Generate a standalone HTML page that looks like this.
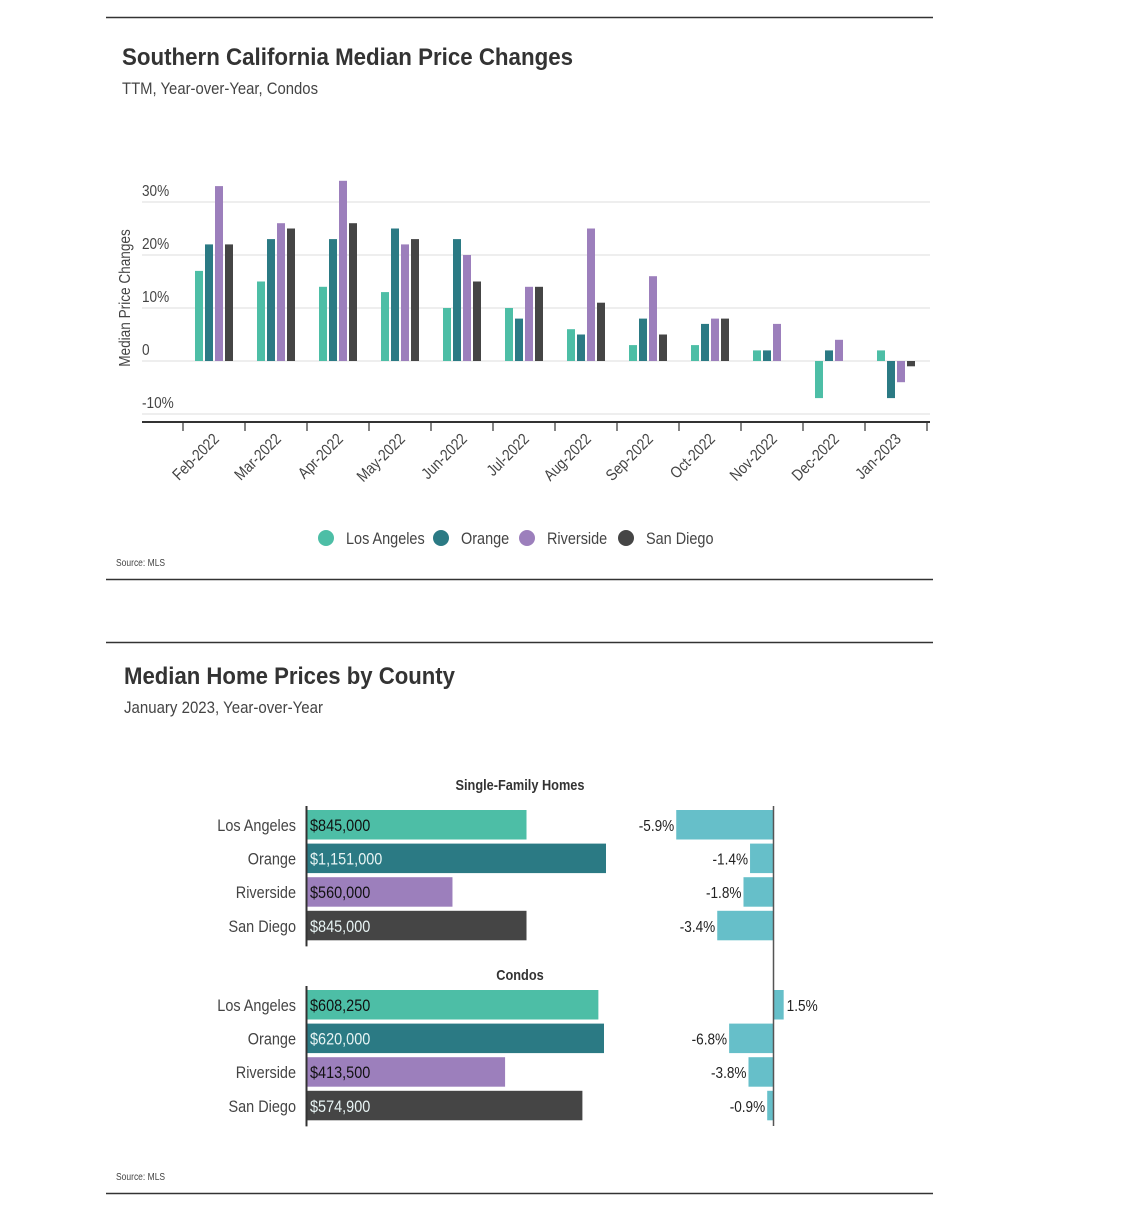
<!DOCTYPE html>
<html><head><meta charset="utf-8"><style>
html,body{margin:0;padding:0;background:#fff;}
svg{display:block;font-family:"Liberation Sans Narrow","Liberation Sans",sans-serif;}
</style></head><body>
<svg id="page" width="1148" height="1215" viewBox="0 0 1148 1215">
<line x1="106" y1="17.5" x2="933" y2="17.5" stroke="#333" stroke-width="1.5"/>
<text x="122" y="65" font-size="24" font-weight="bold" fill="#333" textLength="451" lengthAdjust="spacingAndGlyphs">Southern California Median Price Changes</text>
<text x="122" y="94" font-size="17" fill="#444" textLength="196" lengthAdjust="spacingAndGlyphs">TTM, Year-over-Year, Condos</text>
<g id="c1"></g>
<text x="116" y="566" font-size="10" fill="#444">Source: MLS</text>
<line x1="106" y1="579.5" x2="933" y2="579.5" stroke="#333" stroke-width="1.5"/>

<line x1="106" y1="642.5" x2="933" y2="642.5" stroke="#333" stroke-width="1.5"/>
<text x="124" y="684" font-size="24" font-weight="bold" fill="#333" textLength="331" lengthAdjust="spacingAndGlyphs">Median Home Prices by County</text>
<text x="124" y="713" font-size="17" fill="#444" textLength="199" lengthAdjust="spacingAndGlyphs">January 2023, Year-over-Year</text>
<g id="c2"></g>
<text x="116" y="1180" font-size="10" fill="#444">Source: MLS</text>
<line x1="106" y1="1193.5" x2="933" y2="1193.5" stroke="#333" stroke-width="1.5"/>
</svg>
<script>
const months = ["Feb-2022","Mar-2022","Apr-2022","May-2022","Jun-2022","Jul-2022","Aug-2022","Sep-2022","Oct-2022","Nov-2022","Dec-2022","Jan-2023"];
const seriesNames = ["Los Angeles","Orange","Riverside","San Diego"];
const laVals = [17,15,14,13,10,10,6,3,3,2,-7,2];
const orangeVals = [22,23,23,25,23,8,5,8,7,2,2,-7];
const riversideVals = [33,26,34,22,20,14,25,16,8,7,4,-4];
const sanDiegoVals = [22,25,26,23,15,14,11,5,8,null,null,-1];
const yTicks = [-10,0,10,20,30];
const yTickLabels = ["-10%","0","10%","20%","30%"];

const counties = ["Los Angeles","Orange","Riverside","San Diego"];
const sfhPrices = [845000,1151000,560000,845000];
const sfhPriceLabels = ["$845,000","$1,151,000","$560,000","$845,000"];
const sfhPct = [-5.9,-1.4,-1.8,-3.4];
const condoPrices = [608250,620000,413500,574900];
const condoPriceLabels = ["$608,250","$620,000","$413,500","$574,900"];
const condoPct = [1.5,-6.8,-3.8,-0.9];

const colors = ["#4dbea6","#2b7a84","#9c7fbc","#454545"];
const NS = "http://www.w3.org/2000/svg";
function mk(parent, tag, attrs){const e=document.createElementNS(NS,tag);for(const k in attrs)e.setAttribute(k,attrs[k]);parent.appendChild(e);return e;}

// chart 1
const c1 = document.getElementById('c1');
const y = v => 361 - v*5.3;
const x0 = 183, step = 62;
yTicks.forEach((t,i)=>{
  const gl = mk(c1,'line',{x1:142,x2:930,y1:y(t),y2:y(t),stroke:'#ddd','stroke-width':1});
  
  
  const tl = mk(c1,'text',{x:142,y:y(t)-6,'font-size':16,fill:'#444'});
  tl.textContent = yTickLabels[i];
  
  
});
const yt = mk(c1,'text',{x:0,y:0,'font-size':16,fill:'#444','text-anchor':'middle',transform:'translate(130,298) rotate(-90)'});
yt.textContent='Median Price Changes';


const ax = mk(c1,'line',{x1:142,x2:930,y1:422,y2:422,stroke:'#333','stroke-width':2});


for(let i=0;i<=months.length;i++){
  const tk = mk(c1,'line',{x1:x0+i*step,x2:x0+i*step,y1:422,y2:431,stroke:'#333','stroke-width':1.2});
  
  
}
const allSeries=[laVals,orangeVals,riversideVals,sanDiegoVals];
months.forEach((m,i)=>{
  const cx = x0 + i*step + step/2;
  allSeries.forEach((s,j)=>{
    const v=s[i]; if(v===null) return;
    const bx = cx - 19 + j*10;
    const r = mk(c1,'rect',{x:bx,y:Math.min(y(v),y(0)),width:8,height:Math.abs(y(v)-y(0)),fill:colors[j]});
    
    
  });
  const lb = mk(c1,'text',{x:0,y:0,'font-size':16,fill:'#444','text-anchor':'end',transform:`translate(${cx+6},${440}) rotate(-45)`});
  lb.textContent=m;
  
  
});
const legX=[326,441,527,626];
seriesNames.forEach((n,j)=>{
  const g = mk(c1,'g',{});
  
  
  mk(g,'circle',{cx:legX[j],cy:538,r:8,fill:colors[j]});
  const t=mk(g,'text',{x:legX[j]+20,y:544,'font-size':17,fill:'#444'});
  t.textContent=n;
});

// chart 2
const c2 = document.getElementById('c2');
function panel(title, titleY, top, prices, labels, pcts, pxPerDollar, pxPerPct){
  const tt = mk(c2,'text',{x:520,y:titleY,'font-size':15,'font-weight':'bold',fill:'#333','text-anchor':'middle'});
  tt.textContent=title;
  
  
  counties.forEach((c,i)=>{
    const ry = top + i*33.6;
    const cl = mk(c2,'text',{x:296,y:ry+21,'font-size':17,fill:'#444','text-anchor':'end'});
    cl.textContent=c;
    
    
    const r = mk(c2,'rect',{x:307,y:ry,width:prices[i]*pxPerDollar,height:29.5,fill:colors[i]});
    
    
    const pl = mk(c2,'text',{x:310,y:ry+21,'font-size':17,fill:(i===1||i===3)?'#e8f4f4':'#111'});
    pl.textContent=labels[i];
    
    
    const v=pcts[i], w=Math.abs(v)*pxPerPct;
    const pb = mk(c2,'rect',{x:v<0?773-w:774,y:ry,width:w,height:29.5,fill:'#66bfc9'});
    
    
    const pt = mk(c2,'text',{x:v<0?773-w-2:774+w+3,y:ry+21,'font-size':16,fill:'#222','text-anchor':v<0?'end':'start'});
    pt.textContent=v.toFixed(1)+'%';
    
    
  });
  const a = mk(c2,'line',{x1:306.5,x2:306.5,y1:top-4,y2:top+4*33.6+2,stroke:'#333','stroke-width':2});
  
  
}
panel('Single-Family Homes',790,810,sfhPrices,sfhPriceLabels,sfhPct,299/1151000,16.4);
panel('Condos',980,990,condoPrices,condoPriceLabels,condoPct,297/620000,6.45);
const pa = mk(c2,'line',{x1:773.5,x2:773.5,y1:806,y2:1126,stroke:'#555','stroke-width':1.5});



// condense all text (reference uses a condensed face)
document.querySelectorAll('#page text').forEach(t=>{
  if(t.hasAttribute('textLength')) return;
  const L=t.getComputedTextLength();
  if(L>0){t.setAttribute('textLength',(L*0.85).toFixed(1));t.setAttribute('lengthAdjust','spacingAndGlyphs');}
});
</script>
</body></html>
